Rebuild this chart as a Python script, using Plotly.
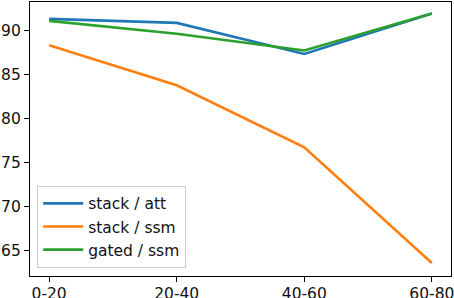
import plotly.graph_objects as go

categories = ["0-20", "20-40", "40-60", "60-80"]
stack_att = [91.28, 90.83, 87.3, 91.9]
stack_ssm = [88.3, 83.75, 76.7, 63.56]
gated_ssm = [91.06, 89.6, 87.7, 91.9]

series = [
    ("stack / att", stack_att, "#1f77b4"),
    ("stack / ssm", stack_ssm, "#ff7f0e"),
    ("gated / ssm", gated_ssm, "#2ca02c"),
]

xs = list(range(len(categories)))
fig = go.Figure()
for i, (name, vals, color) in enumerate(series):
    fig.add_trace(go.Scatter(
        x=xs, y=vals, mode="lines", name=name,
        line=dict(color=color, width=2.6),
        legendgroup=f"g{i}",
    ))

font = dict(family="DejaVu Sans", size=15.5, color="#111111")
fig.update_layout(
    width=454, height=298,
    margin=dict(l=30, r=3, t=2, b=22, autoexpand=False),
    paper_bgcolor="white", plot_bgcolor="white",
    font=font,
    showlegend=True,
    legend=dict(
        x=0.017, y=0.03, xanchor="left", yanchor="bottom",
        bgcolor="rgba(255,255,255,0.8)", bordercolor="#cccccc", borderwidth=1,
        font=font, tracegroupgap=3, traceorder="normal", itemwidth=40,
    ),
)
fig.update_xaxes(
    range=[-0.15, 3.15], tickvals=xs, ticktext=categories,
    showgrid=False, zeroline=False, automargin=False, ticklabeloverflow="allow",
    ticklabelstandoff=-2,
    showline=True, linecolor="black", linewidth=1.1, mirror=True,
    ticks="outside", ticklen=5, tickwidth=1.1, tickcolor="black",
)
fig.update_yaxes(
    range=[62.09, 93.2], tickvals=[65, 70, 75, 80, 85, 90],
    showgrid=False, zeroline=False, automargin=False, ticklabeloverflow="allow",
    showline=True, linecolor="black", linewidth=1.1, mirror=True,
    ticks="outside", ticklen=5, tickwidth=1.1, tickcolor="black",
)
fig.write_html(
    "out.html",
    config={"displayModeBar": False},
    post_script="document.body.style.margin='0';document.body.style.overflow='hidden';",
)
